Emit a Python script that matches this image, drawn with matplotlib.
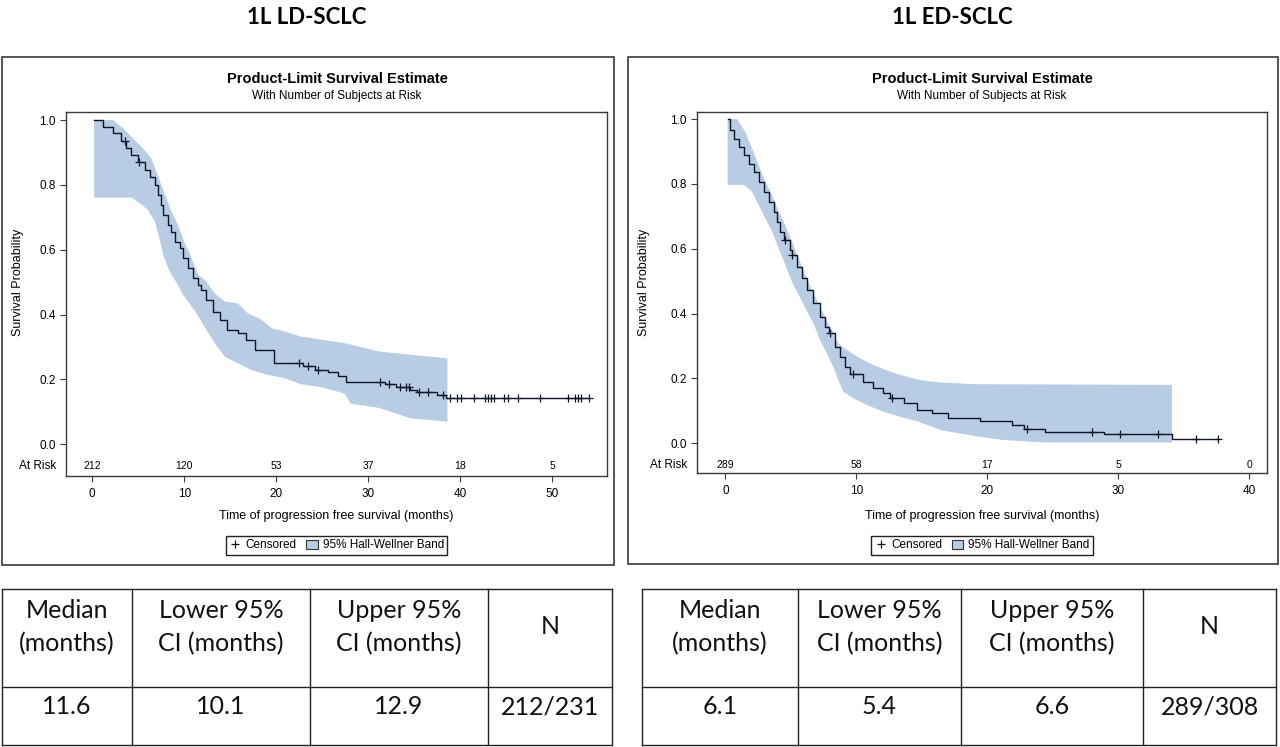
import numpy as np
import matplotlib
matplotlib.use('Agg')
import matplotlib.pyplot as plt
from matplotlib.patches import Rectangle, Patch
from matplotlib.lines import Line2D
import matplotlib.transforms as mtransforms

# ---- data ----
panel_titles = ['1L LD-SCLC', '1L ED-SCLC']

# LD-SCLC Kaplan-Meier curve (time in months, survival after step)
ld_t = [0.2, 1.16, 2.25, 3.16, 3.7, 4.25, 4.97, 5.7, 6.24, 6.78, 7.14, 7.5, 7.7, 8.23,
        8.6, 8.96, 9.5, 9.86, 10.4, 10.95, 11.5, 11.86, 12.4, 13.1, 13.85, 14.6, 15.8,
        16.75, 17.65, 19.8, 22.9, 24.2, 25.6, 26.7, 27.6, 31.8, 33.0, 34.5, 35.3, 37.5,
        38.4, 54.0]
ld_s = [1.0, 0.98, 0.96, 0.934, 0.913, 0.893, 0.872, 0.847, 0.826, 0.80, 0.77, 0.739,
        0.708, 0.677, 0.656, 0.625, 0.605, 0.574, 0.543, 0.512, 0.49, 0.476, 0.445, 0.409,
        0.384, 0.353, 0.343, 0.322, 0.291, 0.25, 0.24, 0.228, 0.222, 0.212, 0.193, 0.185,
        0.178, 0.168, 0.16, 0.152, 0.143, 0.143]
ld_cens = [3.6, 5.1, 22.5, 23.4, 24.5, 31.3, 32.2, 33.5, 34.1, 34.4, 35.5, 36.5, 38.1,
           38.9, 39.6, 40.1, 41.5, 42.7, 43.0, 43.3, 43.7, 44.8, 45.2, 46.3, 48.7, 51.7,
           52.5, 52.8, 53.1, 54.0]
ld_up_t = [0.2, 2.25, 3.34, 4.4, 5.5, 6.4, 6.97, 7.5, 8.05, 8.6, 9.3, 10.0, 10.8, 11.5,
           12.3, 13.3, 14.4, 15.8, 16.9, 18.4, 19.5, 20.9, 22.7, 27.4, 31.2, 34.7, 38.6]
ld_up_s = [1.0, 1.0, 0.975, 0.944, 0.913, 0.883, 0.841, 0.80, 0.759, 0.718, 0.677, 0.625,
           0.574, 0.523, 0.505, 0.466, 0.44, 0.435, 0.404, 0.384, 0.358, 0.348, 0.332,
           0.312, 0.286, 0.276, 0.265]
ld_lo_t = [0.2, 4.25, 5.15, 6.05, 6.8, 7.3, 7.7, 8.4, 9.3, 9.86, 11.1, 12.2, 13.3, 14.4,
           15.8, 17.3, 19.1, 20.9, 22.7, 25.0, 27.4, 28.1, 31.2, 34.6, 38.6]
ld_lo_s = [0.761, 0.761, 0.744, 0.723, 0.687, 0.636, 0.584, 0.533, 0.492, 0.461, 0.414,
           0.363, 0.312, 0.27, 0.25, 0.229, 0.214, 0.204, 0.185, 0.175, 0.157, 0.125,
           0.112, 0.08, 0.07]
ld_risk_t = [0, 10, 20, 30, 40, 50]
ld_risk_n = [212, 120, 53, 37, 18, 5]

# ED-SCLC Kaplan-Meier curve
ed_t = [0.17, 0.38, 0.63, 1.0, 1.4, 1.78, 2.16, 2.54, 2.92, 3.3, 3.69, 3.94, 4.19, 4.45,
        4.9, 5.08, 5.47, 5.85, 6.23, 6.71, 7.22, 7.6, 7.9, 8.37, 8.75, 9.13, 9.5, 10.5,
        11.3, 12.05, 12.6, 13.6, 14.6, 15.75, 17.0, 19.4, 21.9, 22.8, 24.4, 28.9, 34.1,
        37.6]
ed_s = [1.0, 0.966, 0.94, 0.915, 0.889, 0.863, 0.838, 0.807, 0.776, 0.745, 0.714, 0.683,
        0.652, 0.627, 0.595, 0.581, 0.545, 0.509, 0.473, 0.432, 0.39, 0.36, 0.339, 0.298,
        0.267, 0.236, 0.214, 0.19, 0.17, 0.154, 0.139, 0.123, 0.103, 0.092, 0.077, 0.067,
        0.057, 0.044, 0.036, 0.027, 0.013, 0.013]
ed_cens = [4.57, 5.08, 7.98, 9.76, 12.7, 23.0, 28.0, 30.1, 33.0, 35.9, 37.6]
ed_up_t = [0.17, 0.9, 1.52, 2.03, 2.54, 3.05, 3.56, 4.07, 4.57, 5.08, 5.6, 6.1, 6.56,
           7.22, 7.73, 8.24, 8.62, 9.26, 10.27, 11.3, 12.56, 13.84, 14.86, 16.5, 19.05, 34.1]
ed_up_s = [1.0, 1.0, 0.96, 0.91, 0.858, 0.807, 0.766, 0.714, 0.673, 0.622, 0.57, 0.519,
           0.478, 0.421, 0.38, 0.339, 0.308, 0.288, 0.262, 0.241, 0.221, 0.205, 0.195,
           0.187, 0.182, 0.18]
ed_lo_t = [0.17, 1.4, 2.03, 2.54, 3.05, 3.56, 4.07, 4.57, 5.08, 5.6, 6.2, 6.71, 7.22,
           7.73, 8.24, 8.62, 9.0, 9.76, 10.8, 12.05, 13.3, 14.6, 16.5, 19.05, 21.2, 24.4, 34.1]
ed_lo_s = [0.797, 0.797, 0.776, 0.735, 0.694, 0.653, 0.601, 0.55, 0.498, 0.457, 0.41, 0.37,
           0.319, 0.278, 0.236, 0.195, 0.159, 0.139, 0.118, 0.097, 0.082, 0.068, 0.04,
           0.022, 0.01, 0.002, 0.002]
ed_risk_t = [0, 10, 20, 30, 40]
ed_risk_n = [289, 58, 17, 5, 0]

table_headers = ['Median\n(months)', 'Lower 95%\nCI (months)', 'Upper 95%\nCI (months)', 'N']
ld_table = ['11.6', '10.1', '12.9', '212/231']
ed_table = ['6.1', '5.4', '6.6', '289/308']

# ---- styles ----
W, H = 1280, 747
band_col = '#b8cce4'
line_col = '#0c1626'
sas_font = ['Liberation Sans Narrow', 'Liberation Sans', 'DejaVu Sans']
doc_font = ['Lato', 'DejaVu Sans']

fig = plt.figure(figsize=(W / 100, H / 100), dpi=100)
fig.patch.set_facecolor('white')

# pixel overlay for frames, titles and tables
bg = fig.add_axes([0, 0, 1, 1])
bg.set_xlim(0, W)
bg.set_ylim(H, 0)
bg.axis('off')


def px_rect(x0, y0, x1, y1):
    return [x0 / W, 1 - y1 / H, (x1 - x0) / W, (y1 - y0) / H]


def km_panel(frame, axbox, xlim, ylim, xticks, t, s, cens, up_t, up_s, lo_t, lo_s,
             risk_t, risk_n, title, cx):
    # outer frame
    bg.add_patch(Rectangle((frame[0], frame[1]), frame[2] - frame[0], frame[3] - frame[1],
                           fill=False, ec='#3a3a3a', lw=1.2))
    bg.text(cx, 79, 'Product-Limit Survival Estimate', ha='center', va='center',
            fontsize=10.5, fontweight='bold', family=sas_font)
    bg.text(cx, 96, 'With Number of Subjects at Risk', ha='center', va='center',
            fontsize=8.5, family=sas_font)
    bg.text(cx - 30, 18, title, ha='center', va='center', fontsize=16,
            fontweight='bold', family=doc_font)

    ax = fig.add_axes(px_rect(*axbox))
    ax.fill(np.r_[up_t, lo_t[::-1]], np.r_[up_s, lo_s[::-1]], color=band_col, lw=0, zorder=1)
    ax.step(t, s, where='post', color=line_col, lw=1.0, zorder=3)
    tt = np.array(t)
    idx = np.searchsorted(tt, cens, side='right') - 1
    ax.plot(cens, np.array(s)[idx], ls='none', marker='+', ms=6, mew=0.9,
            color=line_col, zorder=4)
    ax.set_xlim(*xlim)
    ax.set_ylim(*ylim)
    ax.set_yticks([0, 0.2, 0.4, 0.6, 0.8, 1.0])
    ax.set_yticklabels(['%.1f' % v for v in [0, 0.2, 0.4, 0.6, 0.8, 1.0]])
    ax.set_xticks(xticks)
    for sp in ax.spines.values():
        sp.set_color('#3a3a3a')
        sp.set_linewidth(1.0)
    ax.tick_params(direction='out', length=4.5, width=0.8, color='#3a3a3a',
                   labelsize=8.5, pad=3)
    for lab in ax.get_xticklabels() + ax.get_yticklabels():
        lab.set_family(sas_font)
    ax.tick_params(axis='x', pad=4)

    y_risk = -0.068
    for rt, rn in zip(risk_t, risk_n):
        ax.text(rt, y_risk, str(rn), ha='center', va='center', fontsize=7.5, family=sas_font)
    trans = mtransforms.blended_transform_factory(ax.transAxes, ax.transData)
    axw = axbox[2] - axbox[0]
    ax.text(-10 / axw, y_risk, 'At Risk', transform=trans, ha='right', va='center',
            fontsize=8.5, family=sas_font)

    axh = axbox[3] - axbox[1]
    ax.set_ylabel('Survival Probability', fontsize=9, family=sas_font)
    ax.yaxis.set_label_coords((22 + frame[0] - axbox[0]) / axw, (axbox[3] - 282) / axh)
    ax.set_xlabel('Time of progression free survival (months)', fontsize=9, family=sas_font)
    ax.xaxis.set_label_coords(0.5, -(510 - axbox[3]) / axh)

    handles = [Line2D([], [], ls='none', marker='+', ms=6, mew=0.9, color=line_col),
               Patch(facecolor=band_col, edgecolor='#333333', lw=0.8)]
    leg = ax.legend(handles, ['Censored', '95% Hall-Wellner Band'], loc='center',
                    bbox_to_anchor=(0.5, -(545.5 - axbox[3]) / axh), ncol=2,
                    fancybox=False, framealpha=1, edgecolor='#222222',
                    prop={'family': sas_font, 'size': 8.5}, handlelength=1.0,
                    handletextpad=0.4, columnspacing=0.8, borderpad=0.3,
                    handleheight=0.8)
    leg.get_frame().set_linewidth(1.0)
    return ax


km_panel((2, 57, 614, 565), (66, 112, 607, 476), (-2.86, 55.95), (-0.098, 1.025),
         [0, 10, 20, 30, 40, 50], ld_t, ld_s, ld_cens, ld_up_t, ld_up_s, ld_lo_t, ld_lo_s,
         ld_risk_t, ld_risk_n, panel_titles[0], 337)
km_panel((628, 57, 1278, 564), (697, 112, 1267, 473), (-2.17, 41.35), (-0.092, 1.022),
         [0, 10, 20, 30, 40], ed_t, ed_s, ed_cens, ed_up_t, ed_up_s, ed_lo_t, ed_lo_s,
         ed_risk_t, ed_risk_n, panel_titles[1], 982)


def draw_table(cols, top, mid, bottom, values):
    lc = '#222222'
    for y in (top, mid, bottom):
        bg.plot([cols[0], cols[-1]], [y, y], color=lc, lw=1.0)
    for x in cols:
        bg.plot([x, x], [top, bottom], color=lc, lw=1.0)
    for i in range(4):
        cx = (cols[i] + cols[i + 1]) / 2
        bg.text(cx, 627, table_headers[i], ha='center', va='center', fontsize=18,
                family=doc_font, linespacing=1.55, color='#111111')
        bg.text(cx, 707, values[i], ha='center', va='center', fontsize=18,
                family=doc_font, color='#111111')


draw_table([2, 132, 310, 488, 612], 589, 687, 745, ld_table)
draw_table([642, 798, 961, 1143, 1276], 589, 687, 745, ed_table)

fig.savefig('out.png', dpi=100, facecolor='white')
